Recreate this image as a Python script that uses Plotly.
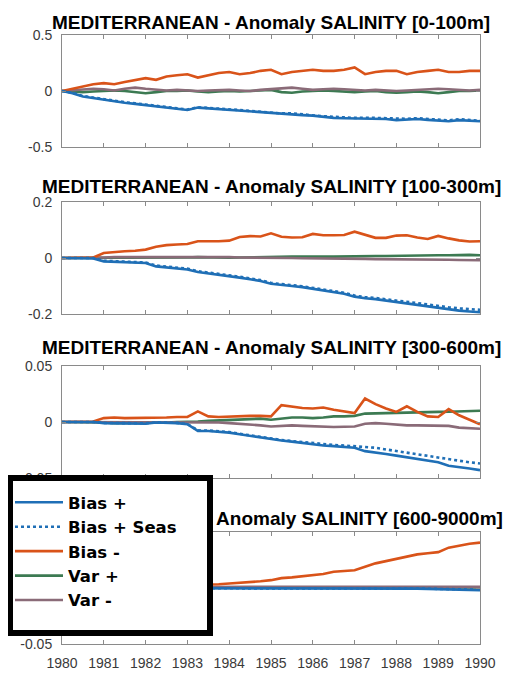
import plotly.graph_objects as go

# page offset of the figure (browser body margin) and figure size
OFF = 8
W, H = 512 - OFF, 673 - OFF

# ---------------- data ----------------
years = [1980 + 0.25 * i for i in range(41)]
year_ticks = list(range(1980, 1991))
year_labels = [str(y) for y in year_ticks]

series_names = ["Bias +", "Bias + Seas", "Bias -", "Var +", "Var -"]

titles = [
    "MEDITERRANEAN - Anomaly SALINITY [0-100m]",
    "MEDITERRANEAN - Anomaly SALINITY [100-300m]",
    "MEDITERRANEAN - Anomaly SALINITY [300-600m]",
    "MEDITERRANEAN - Anomaly SALINITY [600-9000m]",
]

# panel 1 : 0-100 m
bias_p1 = [0, -0.02, -0.05, -0.065, -0.077, -0.09, -0.105, -0.115, -0.125, -0.135, -0.147, -0.16, -0.17,
           -0.148, -0.155, -0.165, -0.17, -0.178, -0.185, -0.193, -0.2, -0.205, -0.21, -0.215, -0.22,
           -0.23, -0.24, -0.243, -0.245, -0.245, -0.245, -0.25, -0.26, -0.255, -0.25, -0.258, -0.265,
           -0.27, -0.26, -0.265, -0.27]
seas_p1 = [0, -0.015, -0.045, -0.06, -0.07, -0.085, -0.1, -0.11, -0.12, -0.13, -0.14, -0.155, -0.165,
           -0.145, -0.15, -0.16, -0.165, -0.17, -0.178, -0.187, -0.195, -0.2, -0.2, -0.21, -0.215,
           -0.225, -0.23, -0.235, -0.24, -0.238, -0.24, -0.243, -0.25, -0.248, -0.243, -0.25, -0.258,
           -0.262, -0.252, -0.258, -0.265]
biasneg_p1 = [0, 0.02, 0.045, 0.06, 0.07, 0.06, 0.08, 0.10, 0.115, 0.10, 0.13, 0.14, 0.15, 0.12, 0.14,
              0.16, 0.17, 0.15, 0.16, 0.18, 0.19, 0.15, 0.17, 0.18, 0.19, 0.18, 0.18, 0.19, 0.21, 0.15,
              0.17, 0.18, 0.18, 0.15, 0.17, 0.18, 0.19, 0.17, 0.17, 0.18, 0.18]
varpos_p1 = [0, -0.005, -0.01, -0.005, 0, 0.005, 0, -0.01, -0.02, -0.01, 0, 0, 0.005, -0.005, -0.01,
             -0.005, 0, -0.005, 0, 0.005, 0.01, -0.01, -0.015, -0.005, 0, 0.005, 0, -0.005, -0.01,
             -0.005, 0, -0.01, -0.015, -0.01, -0.005, -0.01, -0.02, -0.01, 0, 0, 0.005]
varneg_p1 = [0, 0.005, 0.01, 0.02, 0.015, 0.005, 0.02, 0.03, 0.02, 0.01, 0.005, 0.01, 0.005, 0, 0.005,
             0.01, 0.01, 0.005, 0, 0.01, 0.015, 0.02, 0.03, 0.02, 0.01, 0.015, 0.02, 0.015, 0.01, 0.005,
             0.01, 0.005, 0, 0.005, 0.01, 0.015, 0.02, 0.015, 0.01, 0.005, 0.01]

# panel 2 : 100-300 m
bias_p2 = [0, 0, 0, -0.002, -0.012, -0.014, -0.015, -0.016, -0.018, -0.03, -0.034, -0.037, -0.041,
           -0.05, -0.055, -0.058, -0.064, -0.07, -0.076, -0.082, -0.092, -0.097, -0.1, -0.104, -0.11,
           -0.116, -0.122, -0.128, -0.138, -0.144, -0.147, -0.152, -0.158, -0.162, -0.167, -0.172,
           -0.179, -0.184, -0.188, -0.191, -0.194]
seas_p2 = [0, 0, 0, 0, -0.01, -0.012, -0.013, -0.014, -0.016, -0.027, -0.031, -0.034, -0.038, -0.047,
           -0.052, -0.055, -0.061, -0.067, -0.073, -0.079, -0.089, -0.094, -0.097, -0.101, -0.107,
           -0.113, -0.119, -0.124, -0.134, -0.14, -0.143, -0.147, -0.153, -0.157, -0.161, -0.166,
           -0.172, -0.176, -0.18, -0.183, -0.185]
biasneg_p2 = [0, 0, 0, 0.002, 0.018, 0.022, 0.024, 0.026, 0.03, 0.04, 0.046, 0.048, 0.05, 0.06, 0.059,
              0.06, 0.062, 0.075, 0.078, 0.077, 0.088, 0.076, 0.073, 0.074, 0.086, 0.081, 0.081, 0.082,
              0.094, 0.082, 0.072, 0.072, 0.08, 0.081, 0.073, 0.068, 0.079, 0.07, 0.063, 0.059, 0.06]
varpos_p2 = [0, 0, 0, 0, 0, 0.001, 0.001, 0, 0, 0.001, 0.002, 0.002, 0.002, 0.003, 0.002, 0.001, 0.001,
             0.002, 0.003, 0.002, 0.003, 0.004, 0.005, 0.005, 0.006, 0.005, 0.005, 0.006, 0.006, 0.006,
             0.007, 0.007, 0.008, 0.009, 0.01, 0.011, 0.01, 0.01, 0.011, 0.011, 0.01]
varneg_p2 = [0, 0, 0.001, 0.002, 0.002, 0.003, 0.003, 0.004, 0.004, 0.005, 0.004, 0.003, 0.003, 0.004,
             0.005, 0.004, 0.003, 0.002, 0.002, 0.002, 0.001, 0, 0, -0.001, -0.001, -0.002, -0.002,
             -0.003, -0.003, -0.003, -0.004, -0.004, -0.004, -0.005, -0.005, -0.006, -0.006, -0.006,
             -0.007, -0.007, -0.008]

# panel 3 : 300-600 m
bias_p3 = [0, 0, 0, 0, -0.001, -0.001, -0.001, -0.0012, -0.0015, -0.0005, -0.0008, -0.001, -0.002,
           -0.008, -0.008, -0.0085, -0.0095, -0.011, -0.0125, -0.014, -0.0155, -0.0165, -0.0175,
           -0.0188, -0.02, -0.021, -0.0215, -0.022, -0.023, -0.026, -0.027, -0.0285, -0.03, -0.0315,
           -0.033, -0.0345, -0.036, -0.039, -0.04, -0.0415, -0.043]
seas_p3 = [0, 0, 0, 0, -0.0008, -0.0008, -0.0008, -0.001, -0.0012, -0.0003, -0.0006, -0.0008, -0.0018,
           -0.0075, -0.0076, -0.0082, -0.009, -0.0105, -0.012, -0.0135, -0.015, -0.016, -0.017, -0.018,
           -0.019, -0.02, -0.0205, -0.021, -0.0215, -0.022, -0.023, -0.0245, -0.026, -0.0275, -0.029,
           -0.0305, -0.032, -0.0335, -0.035, -0.036, -0.037]
biasneg_p3 = [0, 0, 0, 0.0005, 0.0035, 0.004, 0.0035, 0.0035, 0.0035, 0.004, 0.004, 0.0045, 0.0045,
              0.0095, 0.005, 0.0045, 0.005, 0.005, 0.0055, 0.0055, 0.005, 0.015, 0.0135, 0.0125, 0.012,
              0.013, 0.011, 0.0095, 0.008, 0.021, 0.016, 0.012, 0.009, 0.014, 0.009, 0.005, 0.0045,
              0.0115, 0.006, 0.002, -0.002]
varpos_p3 = [0, 0, 0, 0, -0.0005, -0.001, -0.001, -0.001, -0.001, -0.0005, -0.0005, 0, 0, 0.0005,
             0.001, 0.0015, 0.002, 0.0025, 0.003, 0.003, 0.002, 0.003, 0.004, 0.004, 0.0035, 0.004,
             0.005, 0.005, 0.0055, 0.0075, 0.0078, 0.008, 0.008, 0.0082, 0.0085, 0.0088, 0.009, 0.0092,
             0.0095, 0.0098, 0.01]
varneg_p3 = [0, 0, 0, 0, 0, 0, 0, 0, 0, 0, 0, 0, 0, 0, 0, -0.0005, -0.001, -0.0015, -0.002, -0.003,
             -0.004, -0.0035, -0.003, -0.0035, -0.004, -0.0042, -0.0045, -0.0042, -0.004, -0.0015,
             -0.001, -0.0015, -0.0025, -0.003, -0.003, -0.003, -0.003, -0.0035, -0.005, -0.0055, -0.006]

# panel 4 : 600-9000 m
bias_p4 = [0, 0, 0, 0, 0, 0, 0, 0, 0, 0, 0, 0, -0.0002, -0.0003, -0.0003, -0.0003, -0.0003, -0.0003,
           -0.0003, -0.0003, -0.0003, -0.0003, -0.0003, -0.0003, -0.0003, -0.0004, -0.0004, -0.0004,
           -0.0004, -0.0004, -0.0005, -0.0005, -0.0005, -0.0006, -0.0006, -0.0008, -0.001, -0.0014,
           -0.0016, -0.0018, -0.002]
seas_p4 = [0, 0, 0, 0, 0, 0, 0, 0, 0, 0, 0, 0, -0.0001, -0.0002, -0.0002, -0.0002, -0.0002, -0.0002,
           -0.0002, -0.0002, -0.0002, -0.0002, -0.0002, -0.0002, -0.0002, -0.0003, -0.0003, -0.0003,
           -0.0003, -0.0003, -0.0004, -0.0004, -0.0004, -0.0005, -0.0005, -0.0006, -0.0008, -0.001,
           -0.0012, -0.0014, -0.0015]
biasneg_p4 = [0, 0, 0.0002, 0.0005, 0.0008, 0.001, 0.0013, 0.0016, 0.0018, 0.002, 0.0023, 0.0026,
              0.0028, 0.003, 0.0032, 0.0034, 0.004, 0.0045, 0.0055, 0.006, 0.007, 0.0088, 0.0095,
              0.0105, 0.0115, 0.0125, 0.0145, 0.0152, 0.0158, 0.019, 0.022, 0.024, 0.026, 0.028, 0.03,
              0.031, 0.032, 0.036, 0.038, 0.0395, 0.0405]
varpos_p4 = [0, 0, 0, 0, 0.0001, 0.0001, 0.0002, 0.0002, 0.0002, 0.0003, 0.0003, 0.0003, 0.0003, 0.0004,
             0.0004, 0.0004, 0.0004, 0.0004, 0.0005, 0.0005, 0.0005, 0.0005, 0.0005, 0.0005, 0.0005,
             0.0005, 0.0005, 0.0005, 0.0005, 0.0005, 0.0005, 0.0005, 0.0005, 0.0005, 0.0005, 0.0005,
             0.0005, 0.0005, 0.0005, 0.0005, 0.0005]
varneg_p4 = [0, 0, 0, 0.0001, 0.0002, 0.0003, 0.0004, 0.0005, 0.0006, 0.0007, 0.0008, 0.0008, 0.0009,
             0.0009, 0.001, 0.001, 0.001, 0.001, 0.001, 0.001, 0.001, 0.001, 0.001, 0.001, 0.001,
             0.001, 0.001, 0.001, 0.001, 0.001, 0.001, 0.001, 0.001, 0.001, 0.001, 0.001, 0.001, 0.001,
             0.001, 0.001, 0.001]

panels = [
    [bias_p1, seas_p1, biasneg_p1, varpos_p1, varneg_p1],
    [bias_p2, seas_p2, biasneg_p2, varpos_p2, varneg_p2],
    [bias_p3, seas_p3, biasneg_p3, varpos_p3, varneg_p3],
    [bias_p4, seas_p4, biasneg_p4, varpos_p4, varneg_p4],
]
y_limits = [0.5, 0.2, 0.05, 0.05]
y_tick_text = [["-0.5", "0", "0.5"], ["-0.2", "0", "0.2"], ["-0.05", "0", "0.05"], ["-0.05", "0", "0.05"]]

# ---------------- style ----------------
colors = ["#1f6fb6", "#1f6fb6", "#d95319", "#3c7a52", "#8a6b78"]
dashes = ["solid", "dot", "solid", "solid", "solid"]
draw_order = [3, 4, 2, 0, 1]


def fx(px):  # page pixel -> paper x
    return (px - OFF) / W


def fy(py):  # page pixel -> paper y
    return 1 - (py - OFF) / H


# page-pixel geometry of the four axes boxes
px_left, px_right = 62, 480
px_boxes = [(35, 147), (202, 314), (366, 478), (532, 644)]
px_title_y = [23, 186, 347.5, 520]

title_font = dict(family="Liberation Sans", size=19, color="black", weight="bold")

fig = go.Figure()

for p in range(4):
    ax = "" if p == 0 else str(p + 1)
    for k in draw_order:
        fig.add_trace(go.Scatter(
            x=years, y=panels[p][k], mode="lines", name=series_names[k],
            line=dict(color=colors[k], width=2.6, dash=dashes[k]),
            xaxis="x" + ax, yaxis="y" + ax,
            showlegend=(p == 0), legendrank=k + 1,
        ))

    top, bot = px_boxes[p]
    lim = y_limits[p]
    common = dict(showline=True, linecolor="#8a8a8a", linewidth=1, mirror="ticks",
                  ticks="inside", ticklen=4, tickcolor="#8a8a8a", showgrid=False,
                  zeroline=False, automargin=False,
                  tickfont=dict(family="Liberation Sans", size=14, color="#3a3a3a"))
    fig.layout["xaxis" + ax] = dict(
        domain=[fx(px_left), fx(px_right)], range=[1980, 1990], anchor="y" + ax,
        tickvals=year_ticks, ticktext=year_labels, showticklabels=(p == 3),
        ticklabelstandoff=6, **common)
    fig.layout["yaxis" + ax] = dict(
        domain=[fy(bot), fy(top)], range=[-lim, lim], anchor="x" + ax,
        tickvals=[-lim, 0, lim], ticktext=y_tick_text[p], ticklabelstandoff=6, **common)

    if p < 3:
        fig.add_annotation(x=fx((px_left + px_right) / 2), y=fy(px_title_y[p]),
                           xref="paper", yref="paper", text=titles[p], showarrow=False,
                           xanchor="center", yanchor="middle", font=title_font)

# last title: text of a hidden overlay subplot, so that the legend frame hides its left part
fig.add_trace(go.Scatter(
    x=[0.5], y=[0.5], mode="text", text=[titles[3]], textfont=title_font,
    textposition="middle center", cliponaxis=False, showlegend=False, hoverinfo="skip",
    xaxis="x5", yaxis="y5"))
fig.layout["xaxis5"] = dict(domain=[fx(268 - 20), fx(268 + 20)], range=[0, 1],
                            anchor="y5", visible=False, automargin=False)
fig.layout["yaxis5"] = dict(domain=[fy(px_title_y[3] + 20), fy(px_title_y[3] - 20)],
                            range=[0, 1], anchor="x5", visible=False, automargin=False)

# legend frame
fig.add_shape(type="rect", xref="paper", yref="paper",
              x0=fx(10), x1=fx(210), y0=fy(633), y1=fy(478),
              fillcolor="white", line=dict(color="black", width=6), layer="above")

fig.update_layout(
    template="none",
    width=W, height=H, margin=dict(l=0, r=0, t=0, b=0, pad=0, autoexpand=False),
    paper_bgcolor="white", plot_bgcolor="rgba(0,0,0,0)",
    showlegend=True,
    legend=dict(x=fx(10), y=fy(485), xanchor="left", yanchor="top",
                bgcolor="rgba(0,0,0,0)", borderwidth=0, itemwidth=48,
                traceorder="normal",
                font=dict(family="DejaVu Sans", size=16.5, color="black", weight="bold")),
)

fig.write_html("out.html")
